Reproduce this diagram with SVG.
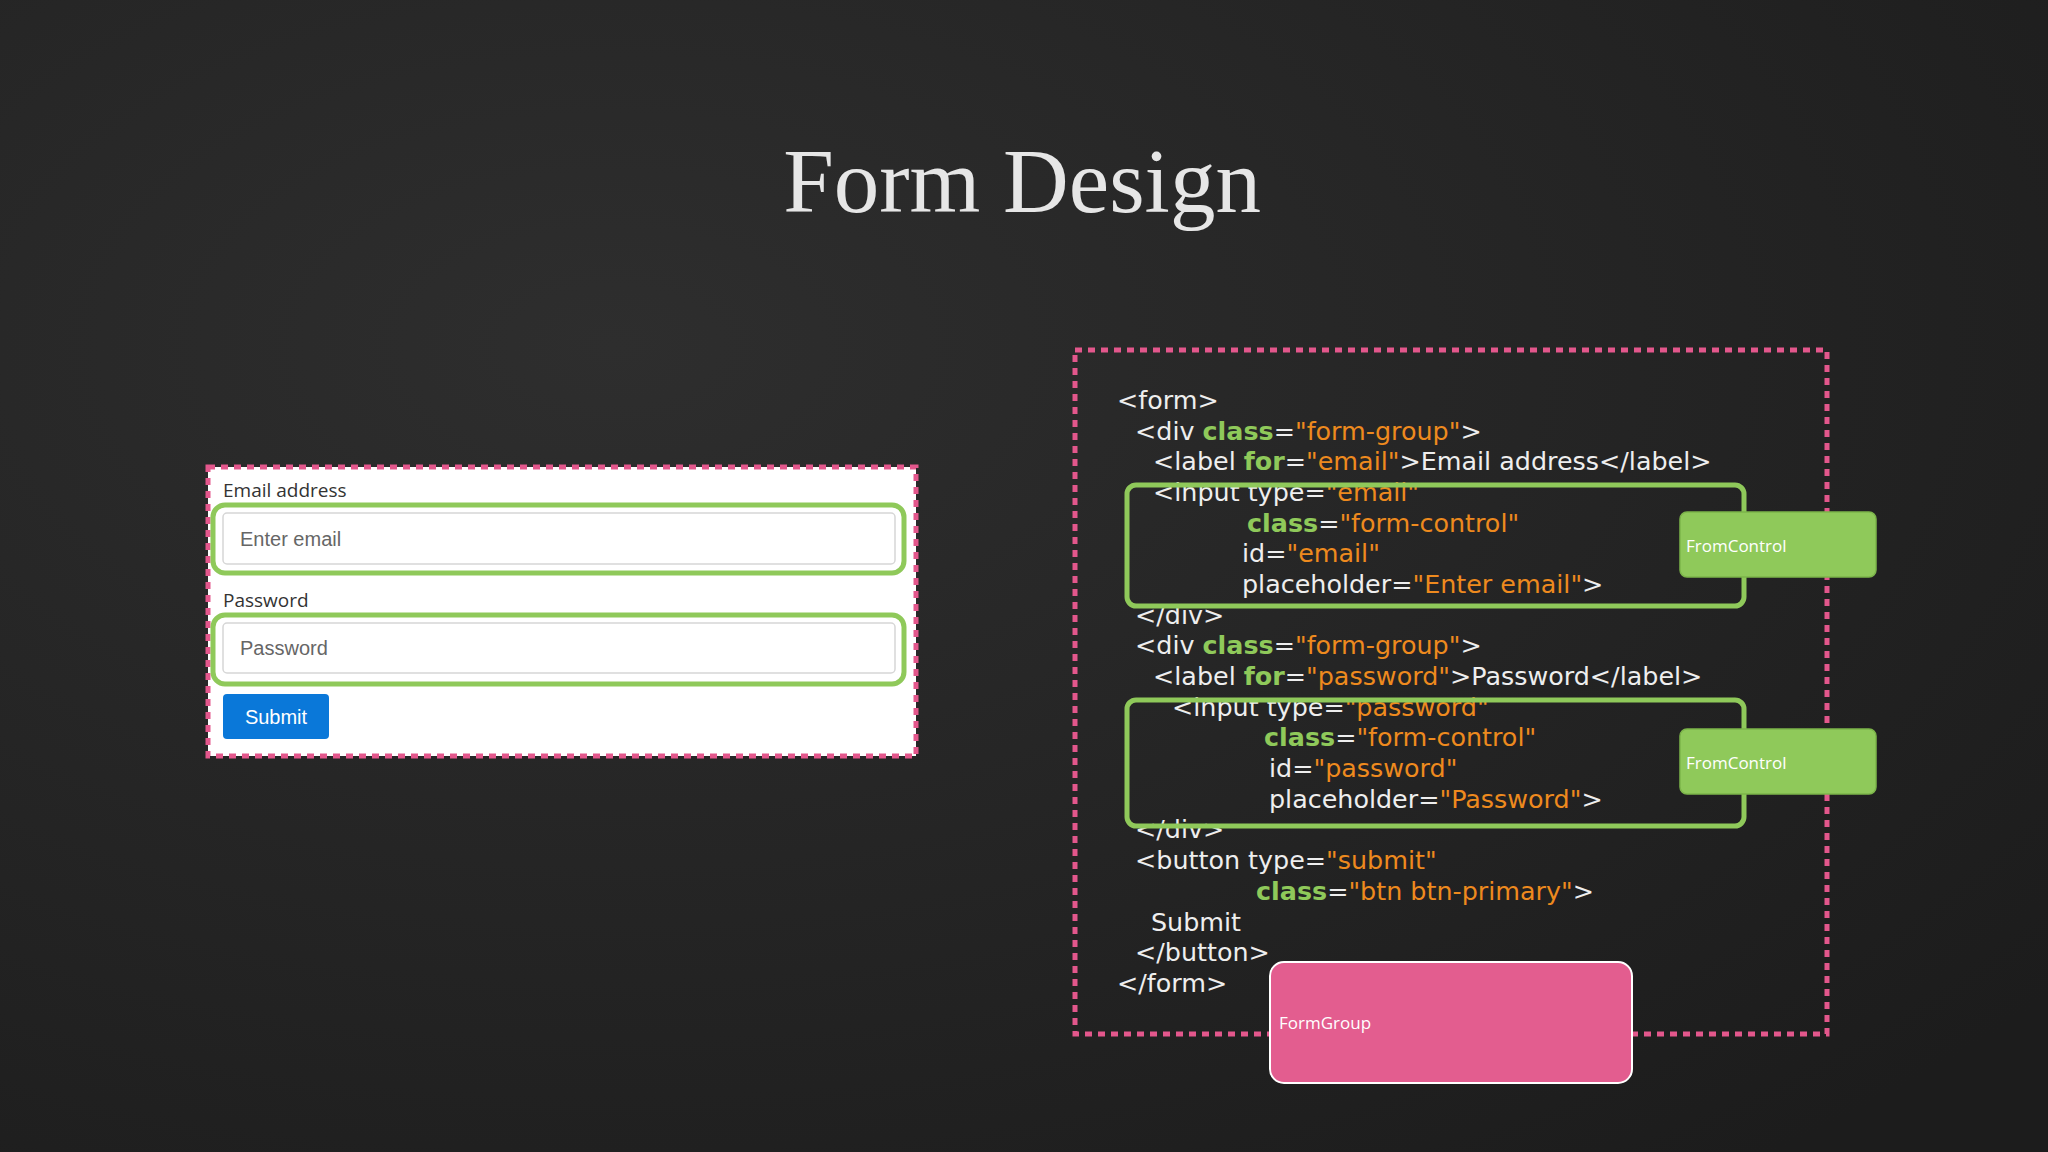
<svg xmlns="http://www.w3.org/2000/svg" width="2048" height="1152" viewBox="0 0 2048 1152">
<defs>
<radialGradient id="bg" cx="0.3" cy="0.3" r="0.9">
<stop offset="0" stop-color="#2e2e2e"/><stop offset="1" stop-color="#1c1c1c"/>
</radialGradient>
</defs>
<style>
.code{font-family:"DejaVu Sans",sans-serif;font-size:25.4px;fill:#eeeeee}
.k{fill:#8fc95a;font-weight:bold}
.s{fill:#ee8a1e}
.gbox{fill:none;stroke:#8fc95a;stroke-width:5}
.fc{fill:#8fc95a;stroke:#7cb54a;stroke-width:1.5}
.lbl{font-family:"Open Sans",sans-serif;font-size:17px;fill:#ffffff}
.dash{fill:none;stroke:#e3578c;stroke-width:5;stroke-dasharray:7 6}
.inp{fill:#fff;stroke:#d6d6d6;stroke-width:1.5}
.ui{font-family:"Liberation Sans",sans-serif;font-size:20px}
</style>
<rect width="2048" height="1152" fill="url(#bg)"/>
<text x="1022" y="212" text-anchor="middle" font-family="Liberation Serif,serif" font-size="91" fill="#e6e6e6">Form Design</text>

<g id="form-preview">
<rect x="208" y="467" width="708" height="289" fill="#ffffff"/>
<rect x="208" y="467" width="708" height="289" class="dash"/>
<text x="223" y="497" font-family="Open Sans,sans-serif" font-size="19" fill="#333">Email address</text>
<rect x="223" y="513" width="672" height="51" rx="4" class="inp"/>
<rect x="213" y="505" width="691" height="68" rx="12" class="gbox"/>
<text x="240" y="546" class="ui" fill="#666">Enter email</text>
<text x="223" y="607" font-family="Open Sans,sans-serif" font-size="19" fill="#333">Password</text>
<rect x="223" y="623" width="672" height="50" rx="4" class="inp"/>
<rect x="213" y="615" width="691" height="69" rx="12" class="gbox"/>
<text x="240" y="655" class="ui" fill="#666">Password</text>
<rect x="223" y="694" width="106" height="45" rx="4" fill="#0a78d9"/>
<text x="276" y="724" text-anchor="middle" class="ui" fill="#fff">Submit</text>
</g>

<g id="code-block">
<rect x="1075" y="350" width="752" height="684" class="dash"/>
<text class="code">
<tspan x="1117" y="409">&lt;form&gt;</tspan>
<tspan x="1135" y="440">&lt;div <tspan class="k">class</tspan>=<tspan class="s">"form-group"</tspan>&gt;</tspan>
<tspan x="1153" y="470">&lt;label <tspan class="k">for</tspan>=<tspan class="s">"email"</tspan>&gt;Email address&lt;/label&gt;</tspan>
<tspan x="1153" y="501">&lt;input type=<tspan class="s">"email"</tspan></tspan>
<tspan x="1247" y="532"><tspan class="k">class</tspan>=<tspan class="s">"form-control"</tspan></tspan>
<tspan x="1242" y="562">id=<tspan class="s">"email"</tspan></tspan>
<tspan x="1242" y="593">placeholder=<tspan class="s">"Enter email"</tspan>&gt;</tspan>
<tspan x="1135" y="624">&lt;/div&gt;</tspan>
<tspan x="1135" y="654">&lt;div <tspan class="k">class</tspan>=<tspan class="s">"form-group"</tspan>&gt;</tspan>
<tspan x="1153" y="685">&lt;label <tspan class="k">for</tspan>=<tspan class="s">"password"</tspan>&gt;Password&lt;/label&gt;</tspan>
<tspan x="1172" y="716">&lt;input type=<tspan class="s">"password"</tspan></tspan>
<tspan x="1264" y="746"><tspan class="k">class</tspan>=<tspan class="s">"form-control"</tspan></tspan>
<tspan x="1269" y="777">id=<tspan class="s">"password"</tspan></tspan>
<tspan x="1269" y="808">placeholder=<tspan class="s">"Password"</tspan>&gt;</tspan>
<tspan x="1135" y="838">&lt;/div&gt;</tspan>
<tspan x="1135" y="869">&lt;button type=<tspan class="s">"submit"</tspan></tspan>
<tspan x="1256" y="900"><tspan class="k">class</tspan>=<tspan class="s">"btn btn-primary"</tspan>&gt;</tspan>
<tspan x="1151" y="931">Submit</tspan>
<tspan x="1135" y="961">&lt;/button&gt;</tspan>
<tspan x="1117" y="992">&lt;/form&gt;</tspan>
</text>
</g>

<g id="control-box-1"><rect x="1127" y="485" width="617" height="121" rx="9" class="gbox"/></g>
<g id="control-box-2"><rect x="1127" y="700" width="617" height="126" rx="9" class="gbox"/></g>
<g id="fromcontrol-1"><rect x="1680" y="512" width="196" height="65" rx="7" class="fc"/><text x="1686" y="552" class="lbl">FromControl</text></g>
<g id="fromcontrol-2"><rect x="1680" y="729" width="196" height="65" rx="7" class="fc"/><text x="1686" y="769" class="lbl">FromControl</text></g>
<g id="formgroup"><rect x="1270" y="962" width="362" height="121" rx="14" fill="#e35d8f" stroke="#ffffff" stroke-width="2"/><text x="1279" y="1029" class="lbl">FormGroup</text></g>
<g id="connectors"/>
</svg>
